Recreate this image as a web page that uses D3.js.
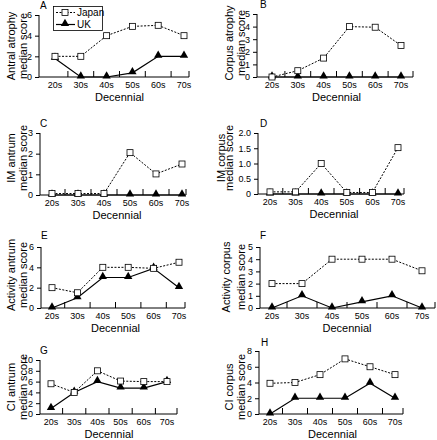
<!DOCTYPE html>
<html><head><meta charset="utf-8">
<script src="https://cdn.jsdelivr.net/npm/d3@7"></script>
<style>body{margin:0;background:#fff}svg{display:block}text{font-family:"Liberation Sans",Arial,sans-serif;fill:#000}</style>
</head><body>
<script>
const decades = ["20s","30s","40s","50s","60s","70s"];
const seriesNames = ["Japan","UK"];
const panelLetters = ["A","B","C","D","E","F","G","H"];
const yTitles = [["Antral atrophy","median score"],["Corpus atrophy","median score"],["IM antrum","median score"],["IM corpus","median score"],["Activity antrum","median score"],["Activity corpus","median score"],["CI antrum","median score"],["CI corpus","median score"]];
const xTitle = "Decennial";
const japanA = [2, 2, 4, 4.9, 5, 4];
const ukA    = [1.8, 0, 0, 0.4, 2, 2];
const japanB = [0, 0.5, 1.5, 4, 3.95, 2.5];
const ukB    = [0, 0, 0, 0, 0, 0];
const japanC = [0.07, 0.07, 0.07, 2.05, 1.02, 1.5];
const ukC    = [0, 0, 0, 0, 0, 0];
const japanD = [0.07, 0.07, 1.0, 0.05, 0.05, 1.52];
const ukD    = [0, 0, 0, 0, 0, 0];
const japanE = [2, 1.5, 4, 4, 3.9, 4.5];
const ukE    = [0, 1, 3, 3, 3.9, 2];
const japanF = [2, 2, 4, 4, 4, 3.05];
const ukF    = [0, 1, 0, 0.5, 1, 0];
const japanG = [5.6, 4, 8, 6.1, 6, 6];
const ukG    = [1, 4, 6, 4.8, 4.8, 6];
const japanH = [3.9, 4, 5, 7, 6, 5];
const ukH    = [0, 2, 2, 2, 3.9, 2];
const yTicksA = [0,2,4,6], yTicksB = [0,1,2,3,4,5], yTicksC = [0,1,2,3], yTicksD = [0,0.5,1,1.5,2];
const yTicksE = [0,2,4,6], yTicksF = [0,1,2,3,4,5], yTicksG = [0,2,4,6,8,10], yTicksH = [0,2,4,6,8];

const japanAll = [japanA,japanB,japanC,japanD,japanE,japanF,japanG,japanH];
const ukAll = [ukA,ukB,ukC,ukD,ukE,ukF,ukG,ukH];
const ticksAll = [yTicksA,yTicksB,yTicksC,yTicksD,yTicksE,yTicksF,yTicksG,yTicksH];

// layout (pixel geometry per panel)
const layout = [
  {ax:39, x0:55, x1:184, xe:189, yt:15, yb:77, l1:11, l2:23, lc:46, lx:40, ly:9},
  {ax:257, x0:272, x1:401, xe:413, yt:14, yb:77, l1:229, l2:241, lc:43, lx:260, ly:8},
  {ax:40, x0:52, x1:182, xe:186, yt:133, yb:195, l1:11, l2:23, lc:158, lx:40, ly:127},
  {ax:258, x0:270, x1:398, xe:404, yt:133, yb:194, l1:221, l2:229, lc:158, lx:260, ly:127},
  {ax:41, x0:52, x1:179, xe:185, yt:247, yb:308, l1:11, l2:23, lc:275, lx:41, ly:239},
  {ax:260, x0:272, x1:422, xe:435, yt:247, yb:308, l1:226, l2:241, lc:277, lx:260, ly:239},
  {ax:40, x0:51, x1:167, xe:177, yt:360, yb:414, l1:11, l2:23, lc:387, lx:40, ly:354},
  {ax:259, x0:270, x1:395, xe:403, yt:351, yb:414, l1:229, l2:241, lc:387, lx:261, ly:346}
];

const svg = d3.select("body").append("svg").attr("width",437).attr("height",440);
const tri = d3.symbol().type(d3.symbolTriangle).size(30);
const sq = 5;

panelLetters.forEach((letter, i) => {
  const L = layout[i];
  const ticks = ticksAll[i];
  const yMax = ticks[ticks.length-1];
  const x = d3.scalePoint().domain(decades).range([L.x0, L.x1]);
  const y = d3.scaleLinear().domain([0, yMax]).range([L.yb, L.yt]);
  const g = svg.append("g");
  const fmt = i === 3 ? d3.format(".1f") : d3.format("d");
  const fmtD = v => (i===3 && v===0) ? "0" : fmt(v);

  // y axis
  const yAxis = d3.axisLeft(y).tickValues(ticks).tickSize(4).tickPadding(3).tickFormat(fmtD);
  const ya = g.append("g").attr("transform",`translate(${L.ax},0)`).call(yAxis);
  ya.select(".domain").attr("d", `M-0,${L.yt}V${L.yb}`).attr("stroke","#000").attr("stroke-width",1);
  ya.selectAll("line").attr("stroke","#000");
  ya.selectAll("text").attr("font-size",9).attr("font-family","Liberation Sans, Arial, sans-serif");

  // x axis line
  g.append("line").attr("x1",L.ax).attr("x2",L.xe).attr("y1",L.yb).attr("y2",L.yb).attr("stroke","#000");
  // inward ticks between categories plus end tick
  const step = x.step();
  const tickPos = decades.slice(0,-1).map(d => x(d) + step/2).concat([L.xe]);
  g.selectAll(".xt").data(tickPos).join("line")
    .attr("x1",d=>d).attr("x2",d=>d).attr("y1",L.yb).attr("y2",L.yb-6).attr("stroke","#000");
  g.selectAll(".xl").data(decades).join("text")
    .attr("x",d=>x(d)).attr("y",L.yb+11).attr("text-anchor","middle").attr("font-size",9).text(d=>d);
  g.append("text").attr("x",(L.x0+L.x1)/2).attr("y",L.yb+24).attr("text-anchor","middle")
    .attr("font-size",11).text(xTitle);

  // y title
  yTitles[i].forEach((t,k) => {
    const xx = k===0 ? L.l1 : L.l2;
    g.append("text").attr("transform",`translate(${xx},${L.lc}) rotate(-90)`)
      .attr("text-anchor","middle").attr("dominant-baseline","central").attr("font-size",11).text(t);
  });
  // panel letter
  g.append("text").attr("x",L.lx).attr("y",L.ly).attr("font-size",10).text(letter);

  const line = d3.line().x((d,j)=>x(decades[j])).y(d=>y(d));
  const uk = ukAll[i], jp = japanAll[i];
  g.append("path").attr("d",line(uk)).attr("fill","none").attr("stroke","#000").attr("stroke-width",1.2);
  g.selectAll(".uk").data(uk).join("path")
    .attr("d",tri).attr("transform",(d,j)=>`translate(${x(decades[j])},${y(d)-1})`).attr("fill","#000");
  g.append("path").attr("d",line(jp)).attr("fill","none").attr("stroke","#000").attr("stroke-width",1)
    .attr("stroke-dasharray","2,1.5");
  g.selectAll(".jp").data(jp).join("rect")
    .attr("x",(d,j)=>x(decades[j])-sq/2-0.5).attr("y",d=>y(d)-sq/2-0.5).attr("width",sq+1).attr("height",sq+1)
    .attr("fill","#fff").attr("stroke","#000").attr("stroke-width",0.8);
});

// legend in panel A
const lg = svg.append("g");
lg.append("rect").attr("x",53.5).attr("y",6.5).attr("width",49).attr("height",24).attr("fill","#fff").attr("stroke","#000").attr("stroke-width",0.8);
lg.append("line").attr("x1",56).attr("x2",75).attr("y1",12.5).attr("y2",12.5).attr("stroke","#000").attr("stroke-dasharray","2,1.5");
lg.append("rect").attr("x",62).attr("y",9.5).attr("width",6).attr("height",6).attr("fill","#fff").attr("stroke","#000").attr("stroke-width",0.8);
lg.append("text").attr("x",77).attr("y",16).attr("font-size",10).text(seriesNames[0]);
lg.append("line").attr("x1",56).attr("x2",75).attr("y1",24.5).attr("y2",24.5).attr("stroke","#000").attr("stroke-width",1.2);
lg.append("path").attr("d",tri).attr("transform","translate(65,23.5)").attr("fill","#000");
lg.append("text").attr("x",77).attr("y",28).attr("font-size",10).text(seriesNames[1]);
</script>
</body></html>
